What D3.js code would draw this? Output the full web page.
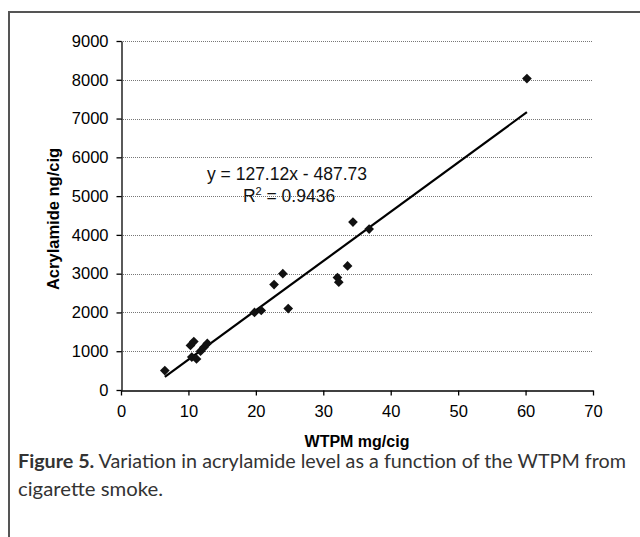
<!DOCTYPE html>
<html>
<head>
<meta charset="utf-8">
<script src="https://cdn.jsdelivr.net/npm/d3@7"></script>
<style>
  body { margin: 0; background: #fff; }
  svg { display: block; }
</style>
</head>
<body>
<div id="chart"></div>
<script>
// data
var wtpm = [6.5, 10.3, 10.8, 10.5, 11.2, 11.8, 12.3, 12.8, 19.8, 20.8, 22.7, 24.0, 24.8, 32.1, 32.3, 33.6, 34.4, 36.8, 60.2];
var acrylamide = [500, 1150, 1250, 850, 800, 1000, 1100, 1200, 2000, 2050, 2720, 3000, 2100, 2900, 2780, 3200, 4330, 4150, 8030];
var slope = 127.12, intercept = -487.73, r2 = 0.9436;
var xTicks = [0, 10, 20, 30, 40, 50, 60, 70];
var yTicks = [0, 1000, 2000, 3000, 4000, 5000, 6000, 7000, 8000, 9000];

var width = 640, height = 537;
var sans = "'Liberation Sans', Arial, sans-serif";

var svg = d3.select("#chart").append("svg")
    .attr("width", width)
    .attr("height", height);

// frame
svg.append("path")
    .attr("d", "M9,537 V12 H640")
    .attr("fill", "none")
    .attr("stroke", "#555")
    .attr("stroke-width", 2);

var x = d3.scaleLinear().domain([0, 70]).range([121, 593]);
var y = d3.scaleLinear().domain([0, 9000]).range([390, 41]);

// gridlines
svg.append("g")
    .selectAll("line")
    .data(yTicks.filter(d => d > 0))
    .join("line")
    .attr("x1", x(0))
    .attr("x2", x(70))
    .attr("y1", d => Math.round(y(d)) + 0.5)
    .attr("y2", d => Math.round(y(d)) + 0.5)
    .attr("stroke", "#777")
    .attr("stroke-width", 1)
    .attr("stroke-dasharray", "1,1");

// axes
var xAxis = svg.append("g")
    .attr("transform", "translate(0," + (Math.round(y(0)) + 0.5) + ")")
    .call(d3.axisBottom(x).tickValues(xTicks).tickFormat(d3.format("d"))
        .tickSize(5).tickPadding(10).tickSizeOuter(0));
var yAxis = svg.append("g")
    .attr("transform", "translate(" + (x(0) + 0.5) + ",0)")
    .call(d3.axisLeft(y).tickValues(yTicks).tickFormat(d3.format("d"))
        .tickSize(5).tickPadding(8).tickSizeOuter(0));

[xAxis, yAxis].forEach(function (g) {
    g.attr("font-size", null).attr("font-family", null);
    g.select(".domain").attr("stroke", "#000").attr("stroke-width", 1.3);
    g.selectAll(".tick line").attr("stroke", "#000").attr("stroke-width", 1.3);
    g.selectAll(".tick text")
        .attr("fill", "#000")
        .style("font-family", sans)
        .style("font-size", "16.5px");
});

// trend line over the data range
var xMin = d3.min(wtpm), xMax = d3.max(wtpm);
svg.append("line")
    .attr("x1", x(xMin))
    .attr("y1", y(slope * xMin + intercept))
    .attr("x2", x(xMax))
    .attr("y2", y(slope * xMax + intercept))
    .attr("stroke", "#000")
    .attr("stroke-width", 2.2);

// points
var pts = wtpm.map((d, i) => ({ x: d, y: acrylamide[i] }));
svg.append("g")
    .selectAll("path")
    .data(pts)
    .join("path")
    .attr("transform", d => "translate(" + x(d.x) + "," + y(d.y) + ")")
    .attr("d", d3.symbol().type(d3.symbolDiamond2).size(60))
    .attr("fill", "#111");

// equation
var eq = svg.append("g")
    .style("font-family", sans)
    .style("font-size", "17.5px")
    .attr("fill", "#111");
eq.append("text")
    .attr("x", 287).attr("y", 180)
    .attr("text-anchor", "middle")
    .text("y = " + slope + "x - " + Math.abs(intercept));
var r = eq.append("text")
    .attr("x", 289).attr("y", 202)
    .attr("text-anchor", "middle");
r.append("tspan").text("R");
r.append("tspan").attr("dy", -7).style("font-size", "11px").text("2");
r.append("tspan").attr("dy", 7).text(" = " + r2);

// axis titles
svg.append("text")
    .attr("x", 357).attr("y", 447)
    .attr("text-anchor", "middle")
    .style("font-family", sans)
    .style("font-size", "16px")
    .style("font-weight", "bold")
    .text("WTPM mg/cig");
svg.append("text")
    .attr("transform", "translate(59,219) rotate(-90)")
    .attr("text-anchor", "middle")
    .style("font-family", sans)
    .style("font-size", "16.5px")
    .style("font-weight", "bold")
    .text("Acrylamide ng/cig");

// caption
var cap = svg.append("g")
    .style("font-family", "Lato, 'Open Sans', sans-serif")
    .style("font-size", "19.5px")
    .attr("fill", "#333");
var c1 = cap.append("text")
    .attr("x", 18).attr("y", 468)
    .attr("textLength", 608)
    .attr("lengthAdjust", "spacingAndGlyphs");
c1.append("tspan").style("font-weight", "bold").text("Figure 5.");
c1.append("tspan").text(" Variation in acrylamide level as a function of the WTPM from");
cap.append("text")
    .attr("x", 18).attr("y", 496)
    .attr("textLength", 145)
    .attr("lengthAdjust", "spacingAndGlyphs")
    .text("cigarette smoke.");
</script>
</body>
</html>
